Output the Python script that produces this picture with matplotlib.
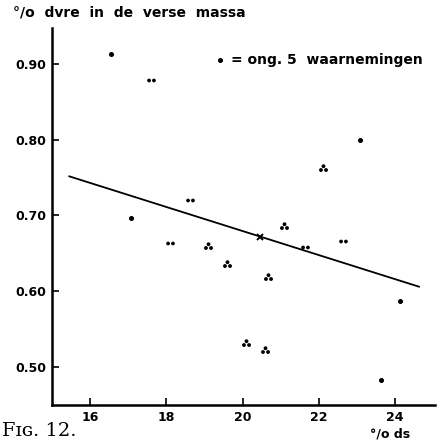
import numpy as np
import matplotlib
matplotlib.use("Agg")
import matplotlib.pyplot as plt
from matplotlib.path import Path

# % droge stof (x), % dvre (y), number of dots in each cluster
ds = [16.55, 17.6, 23.08, 17.08, 18.63, 18.1, 19.08, 19.6, 20.68,
      21.1, 21.63, 22.1, 22.63, 24.13, 20.1, 20.6, 23.63]
dvre = [0.913, 0.878, 0.800, 0.696, 0.720, 0.664, 0.660, 0.636, 0.619,
        0.686, 0.658, 0.763, 0.666, 0.587, 0.532, 0.523, 0.483]
n_dots = [1, 2, 1, 1, 2, 2, 3, 3, 3, 3, 2, 3, 2, 1, 3, 3, 1]

# regression line and mean point
line_x = [15.45, 24.63]
line_y = [0.7515, 0.606]
mean_x = [20.45]
mean_y = [0.672]

xticks = [16, 18, 20, 22, 24]
yticks = [0.50, 0.60, 0.70, 0.80, 0.90]


def dot_marker(n):
    # a small cluster of n dots as one marker path
    r = 0.24
    if n == 1:
        centres = [(0, 0)]
    elif n == 2:
        centres = [(-0.5, 0), (0.5, 0)]
    else:
        centres = [(0, 0.45), (-0.5, -0.3), (0.5, -0.3)]
    return Path.make_compound_path(*[Path.circle(c, r) for c in centres])


fig = plt.figure(figsize=(4.42, 4.46), dpi=100)
ax = fig.add_axes([0.118, 0.092, 0.866, 0.845])

ds_a = np.array(ds)
dvre_a = np.array(dvre)
n_a = np.array(n_dots)
sizes = {1: 2.6, 2: 5.2, 3: 5.4}
for n in (1, 2, 3):
    m = n_a == n
    ax.plot(ds_a[m], dvre_a[m], linestyle="none", marker=dot_marker(n),
            markersize=sizes[n], color="black")

ax.plot(line_x, line_y, color="black", linewidth=1.3)
ax.plot(mean_x, mean_y, marker="x", color="black", markersize=5, mew=1.4,
        linestyle="none")

ax.set_xlim(15.0, 25.05)
ax.set_ylim(0.45, 0.947)
ax.set_xticks(xticks)
ax.set_yticks(yticks)
ax.set_xticklabels([str(t) for t in xticks], fontsize=9, fontweight="bold")
ax.set_yticklabels(["%.2f" % t for t in yticks], fontsize=9, fontweight="bold")
ax.tick_params(direction="in", length=5, width=1.2, pad=4)

for s in ("top", "right"):
    ax.spines[s].set_visible(False)
for s in ("left", "bottom"):
    ax.spines[s].set_linewidth(1.8)

# legend note
ax.plot([19.4], [0.905], marker=dot_marker(1), markersize=2.6,
        color="black", linestyle="none")
ax.text(19.7, 0.905, "= ong. 5  waarnemingen", fontsize=10, fontweight="bold",
        va="center", ha="left")

fig.text(0.03, 0.973, "°/o  dvre  in  de  verse  massa", fontsize=10,
         fontweight="bold", ha="left", va="center")
fig.text(0.837, 0.027, "°/o ds", fontsize=9, fontweight="bold",
         ha="left", va="center")
fig.text(0.005, 0.033, "F\u026a\u0262. 12.", fontsize=14, family="DejaVu Serif",
         ha="left", va="center")

fig.savefig("out.png", dpi=100)
